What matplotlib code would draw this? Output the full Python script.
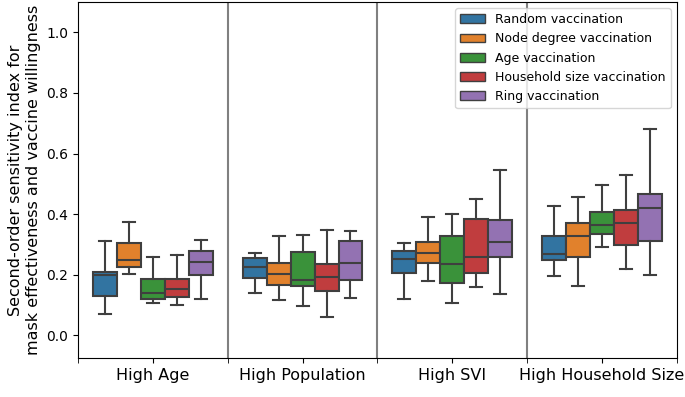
import numpy as np
import matplotlib
matplotlib.use("Agg")
import matplotlib.pyplot as plt
import seaborn as sns
from matplotlib.patches import Patch

# Categories and strategies
groups = ["High Age", "High Population", "High SVI", "High Household Size"]
strategies = ["Random vaccination", "Node degree vaccination", "Age vaccination",
              "Household size vaccination", "Ring vaccination"]

# Box statistics: [whislo, q1, median, q3, whishi] per group
random_vac = [[0.07, 0.13, 0.20, 0.21, 0.31],
              [0.14, 0.19, 0.227, 0.254, 0.273],
              [0.119, 0.205, 0.253, 0.28, 0.306],
              [0.197, 0.248, 0.267, 0.328, 0.427]]
degree_vac = [[0.204, 0.227, 0.25, 0.306, 0.375],
              [0.118, 0.166, 0.202, 0.239, 0.329],
              [0.18, 0.239, 0.273, 0.309, 0.392],
              [0.164, 0.259, 0.328, 0.372, 0.458]]
age_vac = [[0.106, 0.121, 0.141, 0.187, 0.26],
           [0.098, 0.163, 0.184, 0.274, 0.332],
           [0.108, 0.173, 0.236, 0.329, 0.40],
           [0.291, 0.333, 0.363, 0.407, 0.495]]
household_vac = [[0.101, 0.126, 0.152, 0.185, 0.264],
                 [0.062, 0.146, 0.193, 0.235, 0.349],
                 [0.16, 0.205, 0.26, 0.383, 0.451],
                 [0.219, 0.299, 0.37, 0.415, 0.528]]
ring_vac = [[0.12, 0.20, 0.241, 0.28, 0.315],
            [0.123, 0.182, 0.24, 0.313, 0.343],
            [0.135, 0.259, 0.308, 0.38, 0.547],
            [0.199, 0.311, 0.419, 0.468, 0.682]]
all_stats = [random_vac, degree_vac, age_vac, household_vac, ring_vac]

colors = sns.color_palette("tab10", 5, desat=0.75)

fig = plt.figure(figsize=(6.85, 3.97), dpi=100)
ax = fig.add_axes([0.114, 0.098, 0.874, 0.897])

n = len(strategies)
width = 0.8 / n
edge = "#3f3f3f"
for k, (stats, col) in enumerate(zip(all_stats, colors)):
    offset = (k - (n - 1) / 2) * width
    bstats = []
    for s in stats:
        bstats.append(dict(whislo=s[0], q1=s[1], med=s[2], q3=s[3], whishi=s[4], fliers=[]))
    pos = np.arange(len(groups)) + offset
    ax.bxp(bstats, positions=pos, widths=width, patch_artist=True, showfliers=False,
           boxprops=dict(facecolor=col, edgecolor=edge, linewidth=1.5),
           medianprops=dict(color=edge, linewidth=1.5),
           whiskerprops=dict(color=edge, linewidth=1.5),
           capprops=dict(color=edge, linewidth=1.5),
           capwidths=width / 2, manage_ticks=False)

for xv in [0.5, 1.5, 2.5]:
    ax.axvline(xv, color="gray", linewidth=1.5)

ax.set_xlim(-0.5, 3.5)
ax.set_ylim(-0.075, 1.1)
ax.set_xticks(range(len(groups)))
ax.set_xticklabels(groups, fontsize=11.5)
ax.set_xticks(np.arange(-0.5, 4, 1), minor=True)
ax.tick_params(axis="x", which="minor", length=3.5)
ax.set_yticks(np.arange(0, 1.01, 0.2))
ax.set_yticklabels([f"{v:.1f}" for v in np.arange(0, 1.01, 0.2)], fontsize=10)
ax.set_ylabel("Second-order sensitivity index for\nmask effectiveness and vaccine willingness",
              fontsize=11.5)

handles = [Patch(facecolor=c, edgecolor=edge, label=s) for c, s in zip(colors, strategies)]
ax.legend(handles=handles, loc="upper right", fontsize=9)

fig.savefig("out.png", dpi=100)
